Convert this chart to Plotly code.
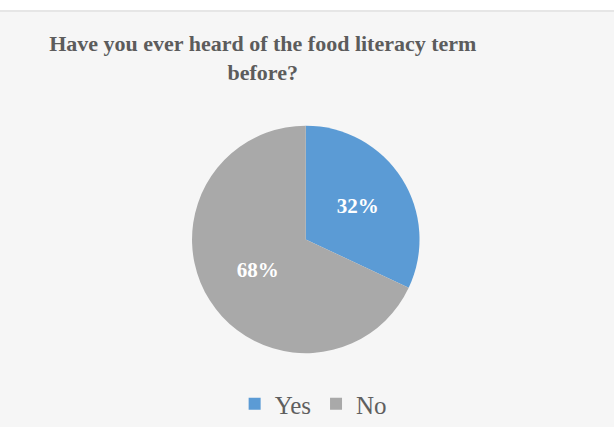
import plotly.graph_objects as go

categories = ["Yes", "No"]
values = [32, 68]
colors = ["#5B9BD5", "#A9A9A9"]
title_text = "Have you ever heard of the food literacy term<br>before?"

fig = go.Figure(go.Pie(
    labels=categories,
    values=values,
    marker=dict(colors=colors, line=dict(width=0)),
    sort=False,
    direction="clockwise",
    rotation=0,
    texttemplate="%{percent:.0%}",
    textposition="inside",
    insidetextorientation="horizontal",
    textfont=dict(family="Liberation Serif", size=21, color="white", weight="bold"),
    domain=dict(x=[0.3125, 0.6835], y=[0.171, 0.705]),
    hoverinfo="label+percent",
))

fig.update_layout(
    width=614, height=427,
    margin=dict(l=0, r=0, t=0, b=0),
    paper_bgcolor="#f6f6f6",
    title=dict(text=title_text, x=0.428, xanchor="center", y=0.88, yanchor="middle",
               font=dict(family="Liberation Serif", size=22, color="#5c5c5c", weight="bold")),
    showlegend=True,
    legend=dict(orientation="h", x=0.51, xanchor="center", y=0.052, yanchor="middle",
                font=dict(family="Liberation Serif", size=25, color="#5f5f5f"),
                itemwidth=30, traceorder="normal"),
    shapes=[
        dict(type="rect", xref="paper", yref="paper", x0=0, x1=1, y0=0.974, y1=1,
             fillcolor="white", line=dict(width=0), layer="below"),
        dict(type="line", xref="paper", yref="paper", x0=0, x1=1, y0=0.974, y1=0.974,
             line=dict(color="#e6e6e6", width=2), layer="below"),
    ],
)

fig.write_html("out.html")
